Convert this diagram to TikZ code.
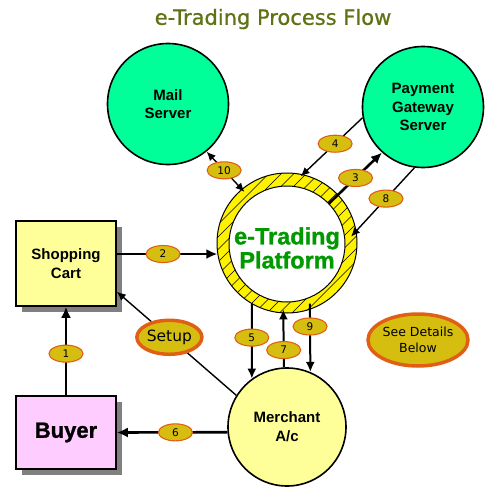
\documentclass[tikz,border=0pt]{standalone}
\usepackage{fontspec}
\setmainfont{Liberation Sans}
\newfontfamily\verd{DejaVu Sans}
\newfontfamily\verdheavy{DejaVu Sans}[FakeBold=0.8]
\newfontfamily\blackfont{Liberation Sans}[FakeBold=1.2]
\usepackage{tikz}
\usetikzlibrary{shapes,arrows.meta}
\definecolor{servergreen}{RGB}{0,255,153}
\definecolor{paleyellow}{RGB}{255,255,153}
\definecolor{palepink}{RGB}{255,204,255}
\definecolor{shadowgray}{RGB}{128,128,128}
\definecolor{taggold}{RGB}{214,190,16}
\definecolor{tagrim}{RGB}{225,95,20}
\definecolor{tradegreen}{RGB}{0,153,0}
\definecolor{titleolive}{RGB}{95,115,20}

\begin{document}
\begin{tikzpicture}[x=1pt,y=-1pt]
    %styles
    \tikzstyle{server}=[circle,draw,line width=1.6pt,fill=servergreen,minimum size=121pt,inner sep=0pt,align=center,font=\fontsize{15}{18.5}\selectfont\bfseries]
    \tikzstyle{merchant}=[circle,draw,line width=1.6pt,fill=paleyellow,minimum size=118pt,inner sep=0pt,align=center,font=\fontsize{15}{19}\selectfont\bfseries]
    \tikzstyle{box}=[rectangle,draw,line width=1.6pt,minimum width=100pt,inner sep=0pt,align=center,preaction={fill=shadowgray,transform canvas={xshift=5.5pt,yshift=-5.5pt}}]
    \tikzstyle{platring}=[circle,draw,line width=1pt,fill=yellow,minimum size=140pt,inner sep=0pt,path picture={\foreach \k in {-14,...,14} \draw[line width=0.6pt] ([xshift=\k*12.5pt]path picture bounding box.center) +(-90pt,-90pt) -- +(90pt,90pt);}]
    \tikzstyle{platcore}=[circle,draw,line width=1pt,fill=white,minimum size=116pt,inner sep=0pt]
    \tikzstyle{numtag}=[ellipse,draw=tagrim,line width=1.1pt,fill=taggold,minimum width=34pt,minimum height=17pt,inner sep=0pt,font=\verd\fontsize{10.5}{12}\selectfont]
    \tikzstyle{bigtag}=[ellipse,draw=tagrim,line width=3.5pt,fill=taggold,inner sep=0pt,align=center]
    \tikzstyle{heavyarr}=[-{Latex[length=11pt,width=10pt]},line width=2.6pt]
    \tikzstyle{midarr}=[-{Latex[length=10pt,width=9pt]},line width=2pt]
    \tikzstyle{thinarr}=[-{Latex[length=9pt,width=8pt]},line width=1.4pt]
    \useasboundingbox (0,0) rectangle (503,504);
    %nodes
    \node[font=\verdheavy\fontsize{21}{24}\selectfont,text=titleolive] (title) at (273,19) {e-Trading Process Flow};
    \node[server] (mail) at (168,104) {Mail\\Server};
    \node[server] (pay) at (423,107) {Payment\\Gateway\\Server};
    \node[platring] (plat) at (287,243) {};
    \node[platcore] (platin) at (287,244) {};
    \node[font=\blackfont\bfseries\fontsize{23.5}{24}\selectfont,text=tradegreen,align=center] (pltxt) at (287,248) {e-Trading\\Platform};
    \node[box,fill=paleyellow,minimum height=85pt,font=\fontsize{15}{18.5}\selectfont\bfseries] (cart) at (66,263.5) {Shopping\\Cart};
    \node[box,fill=palepink,minimum height=73pt,font=\blackfont\bfseries\fontsize{22}{24}\selectfont] (buyer) at (66,432.5) {Buyer};
    \node[merchant] (merch) at (287,427) {Merchant\\A/c};
    \node[bigtag,minimum width=100pt,minimum height=52pt,font=\verd\fontsize{12.5}{16.5}\selectfont] (details) at (418,340) {See Details\\Below};

    %arrows
    \draw[heavyarr] (buyer.north) -- node[numtag,pos=0.47] (n1) {1} (cart.south);
    \draw[heavyarr] (cart.east |- plat.189) -- node[numtag,pos=0.46] (n2) {2} (plat.189);
    \draw[heavyarr] (platin.44) -- node[numtag,pos=0.5] (n3) {3} (pay.228);
    \draw[thinarr,shorten >=-3pt] (pay.190) -- node[numtag,pos=0.46] (n4) {4} (plat.77);
    \draw[thinarr,shorten >=-8pt] (pay.262) -- node[numtag,pos=0.49] (n8) {8} (plat.10);
    \draw[thinarr,{Latex[length=9pt,width=8pt]}-{Latex[length=9pt,width=8pt]},shorten >=-4pt] (mail.-51) -- node[numtag,pos=0.5] (n10) {10} (plat.130);
    \draw[midarr] (plat.240) -- node[numtag,pos=0.45] (n5) {5} (merch.126);
    \draw[midarr,shorten >=-4pt] (merch.93) -- node[numtag,pos=0.32] (n7) {7} (plat.267);
    \draw[midarr,shorten <=-6pt] (plat.-71) -- node[numtag,pos=0.27] (n9) {9} (merch.67);
    \draw[heavyarr] (merch.185) -- node[numtag,pos=0.47] (n6) {6} (buyer.east);
    \draw[thinarr] (merch.148) -- node[bigtag,pos=0.56,minimum width=65pt,minimum height=34pt,font=\verd\fontsize{15.5}{18}\selectfont] (setup) {Setup} (cart.-29);
\end{tikzpicture}
\end{document}
